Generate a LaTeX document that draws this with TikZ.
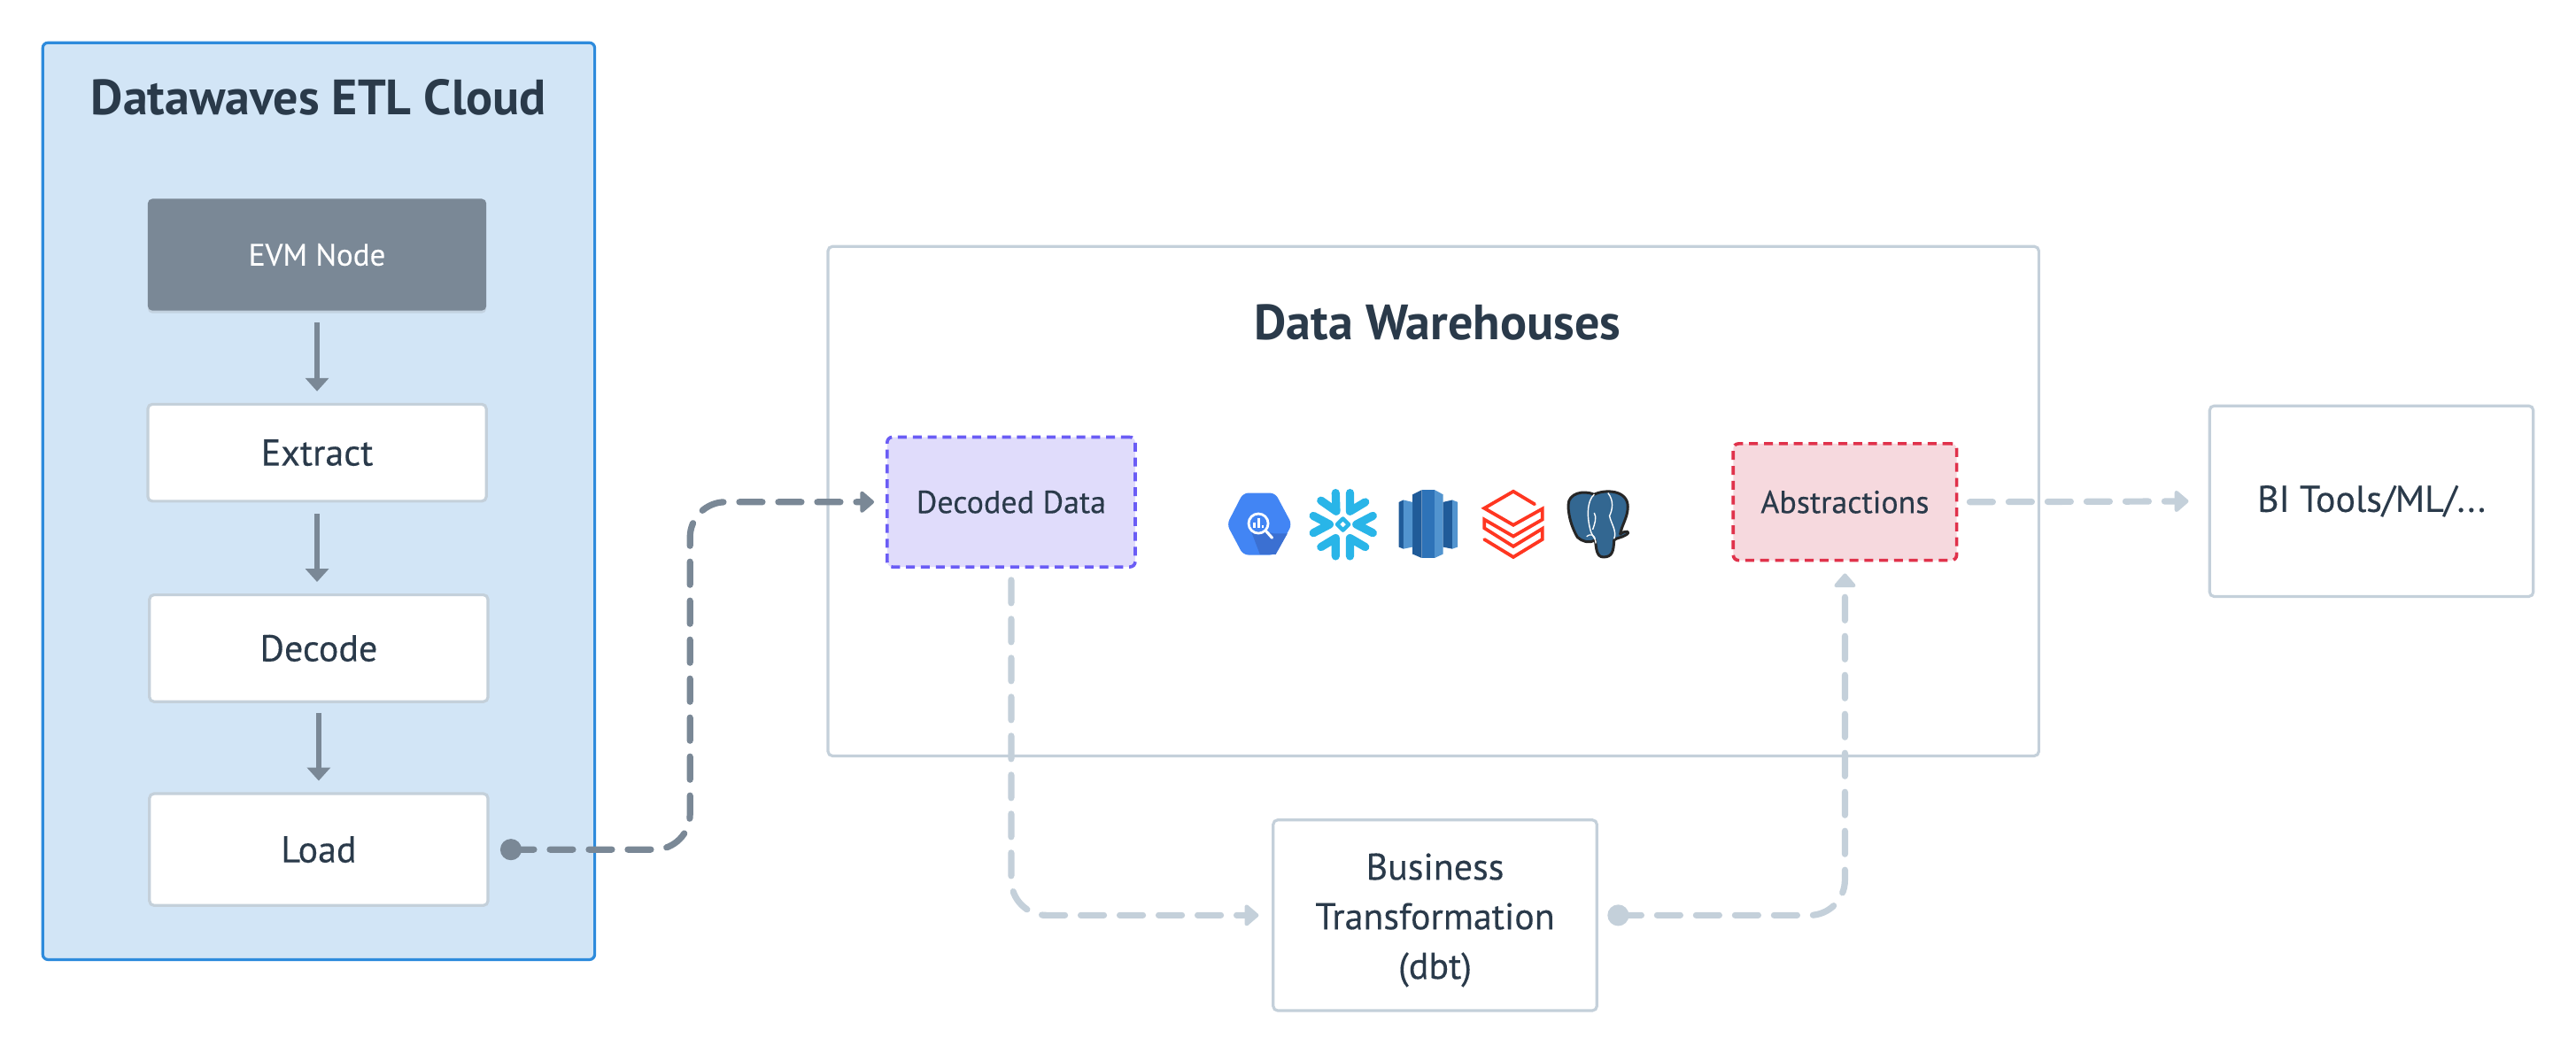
\documentclass[tikz,border=0pt]{standalone}
\usepackage{fontspec}
\setmainfont{PT Sans}
\newfontfamily\medf{PT Sans}[FakeBold=0.25]
\usetikzlibrary{arrows.meta,shadows,calc}
\newlength\ov \setlength\ov{0.92765pt}
\definecolor{inkc}{HTML}{2A3A4A}
\definecolor{slatec}{HTML}{7A8896}
\definecolor{palec}{HTML}{C4D0DA}
\definecolor{cloudc}{HTML}{D2E5F6}
\definecolor{cloudl}{HTML}{2E8BDC}
\definecolor{violc}{HTML}{E0DCFB}
\definecolor{violl}{HTML}{6A5CF5}
\definecolor{rosec}{HTML}{F6D9DE}
\definecolor{rosel}{HTML}{E0324B}
\definecolor{bqc}{HTML}{4285F4}
\definecolor{bqd}{HTML}{3B70D2}
\definecolor{snowc}{HTML}{29B5E8}
\definecolor{rsa}{HTML}{205B99}
\definecolor{rsb}{HTML}{2E73B8}
\definecolor{rsc}{HTML}{5294CF}
\definecolor{dbc}{HTML}{FF3621}
\definecolor{pgc}{HTML}{336791}
\tikzset{
  cardbox/.style={draw=palec,line width=1.6pt,fill=white,rounded corners=2.5pt,inner sep=0pt,text=inkc,font=\medf\fontsize{21}{28}\selectfont,align=center},
  cardtext/.style={inner sep=0pt,text=inkc,font=\medf\fontsize{21}{28}\selectfont,align=center},
  evmbox/.style={fill=slatec,rounded corners=2.5pt,inner sep=0pt,text=white,font=\medf\fontsize{17.5}{20}\selectfont,drop shadow={opacity=.18,shadow xshift=0pt,shadow yshift=-1.5pt}},
  cloudbox/.style={draw=cloudl,line width=1.6pt,fill=cloudc,rounded corners=3pt,inner sep=0pt},
  housebox/.style={draw=palec,line width=1.6pt,fill=white,rounded corners=2.5pt,inner sep=0pt},
  dashbox/.style={line width=1.8pt,dash pattern=on 5pt off 3.4pt,rounded corners=3pt,inner sep=0pt,text=inkc,font=\medf\fontsize{18}{22}\selectfont},
  headtext/.style={text=inkc,font=\bfseries\fontsize{28}{32}\selectfont,inner sep=0pt},
  solidarrow/.style={draw=slatec,line width=3pt,-{Triangle[length=7.5pt,width=13pt]}},
  flowdark/.style={draw=slatec,line width=3.6pt,line cap=round,dash pattern=on 13pt off 9pt,rounded corners=20pt,-{Triangle[length=8.5pt,width=14pt,round]}},
  flowpale/.style={draw=palec,line width=3.6pt,line cap=round,dash pattern=on 13pt off 9pt,rounded corners=20pt,-{Triangle[length=8.5pt,width=14pt,round]}},
  dotmark/.style={circle,inner sep=0pt,minimum size=13\ov},
  snowline/.style={draw=snowc,line width=4.6pt,line cap=round,line join=round},
  dbline/.style={draw=dbc,line width=1.9pt,line cap=round,line join=miter},
}
\begin{document}
\begin{tikzpicture}[x=0.92765pt,y=-0.92765pt]
\useasboundingbox (0,0) rectangle (1568,641.4);
\node[cloudbox,minimum width=336\ov,minimum height=558\ov] (cloud) at (194,305) {};
\node[headtext] (cloudtitle) at (194,59) {Datawaves ETL Cloud};
\node[evmbox,minimum width=206\ov,minimum height=68\ov] (evm) at (193,155) {EVM Node};
\node[cardbox,minimum width=206\ov,minimum height=59\ov] (extract) at (193,275.5) {Extract};
\node[cardbox,minimum width=206\ov,minimum height=65\ov] (decode) at (194,394.5) {Decode};
\node[cardbox,minimum width=206\ov,minimum height=68\ov] (load) at (194,517) {Load};

\node[housebox,minimum width=737\ov,minimum height=310\ov] (house) at (872.5,305) {};
\node[headtext] (housetitle) at (875,196) {Data Warehouses};
\node[dashbox,draw=violl,fill=violc,minimum width=151\ov,minimum height=79\ov] (decoded) at (615.5,305.5) {Decoded Data};
\node[dashbox,draw=rosel,fill=rosec,minimum width=136\ov,minimum height=71\ov] (abstr) at (1123,305.5) {Abstractions};
\node[cardbox,minimum width=197\ov,minimum height=116\ov] (bi) at (1443.5,305) {BI Tools/ML/...};
\node[cardbox,minimum width=197\ov,minimum height=116\ov] (biz) at (873.5,557) {};
\node[cardtext] (biztext) at (873.5,560) {Business\\Transformation\\(dbt)};

\draw[solidarrow,shorten <=7\ov,shorten >=7\ov] (evm.south) -- (extract.north);
\draw[solidarrow,shorten <=7\ov,shorten >=7\ov] (extract.south) -- (extract.south |- decode.north);
\draw[solidarrow,shorten <=6\ov,shorten >=7\ov] (decode.south) -- (load.north);

\node[dotmark,fill=slatec] (dotload) at (311,517) {};
\node[dotmark,fill=palec] (dotbiz) at (985,557) {};
\coordinate (bendl) at (420,517);
\coordinate (bendb) at (615.5,557);
\coordinate (bendt) at (1123,557);
\draw[flowdark,shorten >=7\ov] (dotload.center) -- (bendl) -- (bendl |- decoded.west) -- (decoded.west);
\draw[flowpale,shorten <=7\ov,shorten >=8\ov] (decoded.south) -- (bendb) -- (biz.west);
\draw[flowpale,shorten >=7\ov] (dotbiz.center) -- (bendt) -- (abstr.south);
\draw[flowpale,shorten <=7\ov,shorten >=12\ov] (abstr.east) -- (bi.west);

% logos
\begin{scope}[shift={(722.3,274.9)},x=.1724pt,y=-.1724pt]
  % BigQuery
  \fill[bqc,rounded corners=3pt] (132,238) -- (185,135) -- (290,135) -- (345,238) -- (290,338) -- (185,338) -- cycle;
  \fill[bqd] (262,262) -- (285,268) -- (330,268) -- (292,336) -- (240,336) -- (212,262) -- cycle;
  \draw[white,line width=1.4pt] (235,235) circle[radius=32];
  \draw[white,line width=1.6pt,line cap=round] (262,262) -- (280,282);
  \draw[white,line width=1.1pt] (222,232) -- (222,250) (236,218) -- (236,250) (250,240) -- (250,250);
  % Snowflake
  \draw[snowline] (440,160) -- (490,195) -- (488,135);
  \draw[snowline] (585,165) -- (535,195) -- (535,135);
  \draw[snowline] (415,210) -- (468,238) -- (415,266);
  \draw[snowline] (610,210) -- (556,238) -- (610,266);
  \draw[snowline] (440,312) -- (488,283) -- (488,342);
  \draw[snowline] (585,312) -- (535,283) -- (535,342);
  \draw[snowc,line width=2.2pt,line join=round] (512,219) -- (531,238) -- (512,257) -- (493,238) -- cycle;
  % Redshift
  \fill[rsa] (740,140) -- (770,125) -- (770,348) -- (740,335) -- cycle;
  \fill[rsb] (770,125) -- (812,125) -- (812,348) -- (770,348) -- cycle;
  \fill[rsc] (812,125) -- (840,140) -- (840,335) -- (812,348) -- cycle;
  \fill[rsa] (695,165) -- (710,158) -- (710,318) -- (695,312) -- cycle;
  \fill[rsc] (710,158) -- (740,165) -- (740,312) -- (710,318) -- cycle;
  \fill[rsa] (840,165) -- (870,158) -- (870,318) -- (840,312) -- cycle;
  \fill[rsc] (870,158) -- (888,165) -- (888,312) -- (870,318) -- cycle;
  % Databricks
  \draw[dbline] (1140,172) -- (1070,130) -- (975,185) -- (1070,240) -- (1165,187) -- (1165,222) -- (1070,277) -- (975,222) -- (975,250) -- (1070,310) -- (1165,252) -- (1165,287) -- (1070,345) -- (975,287);
  % PostgreSQL
  \draw[draw=black!85,line width=1.5pt,fill=pgc,line join=round]
    (1250,175) .. controls (1250,135) and (1300,125) .. (1335,140)
    .. controls (1370,122) and (1445,125) .. (1445,180)
    .. controls (1445,215) and (1425,240) .. (1420,270)
    .. controls (1440,255) and (1455,262) .. (1440,272)
    .. controls (1425,282) and (1405,282) .. (1400,290)
    .. controls (1398,325) and (1395,345) .. (1365,345)
    .. controls (1340,345) and (1342,310) .. (1338,290)
    .. controls (1320,300) and (1295,295) .. (1280,280)
    .. controls (1265,255) and (1250,215) .. (1250,175) -- cycle;
  \draw[white,line width=.7pt] (1335,140) .. controls (1310,160) and (1310,220) .. (1325,265) .. controls (1335,285) and (1340,285) .. (1340,300);
  \draw[white,line width=.7pt] (1380,135) .. controls (1400,160) and (1395,190) .. (1385,210) .. controls (1390,235) and (1410,260) .. (1400,285);
  \draw[white,line width=.7pt] (1335,200) .. controls (1345,215) and (1335,240) .. (1330,255);
  \draw[white,line width=.6pt] (1310,278) .. controls (1325,265) and (1335,275) .. (1338,285);
\end{scope}
\end{tikzpicture}
\end{document}
